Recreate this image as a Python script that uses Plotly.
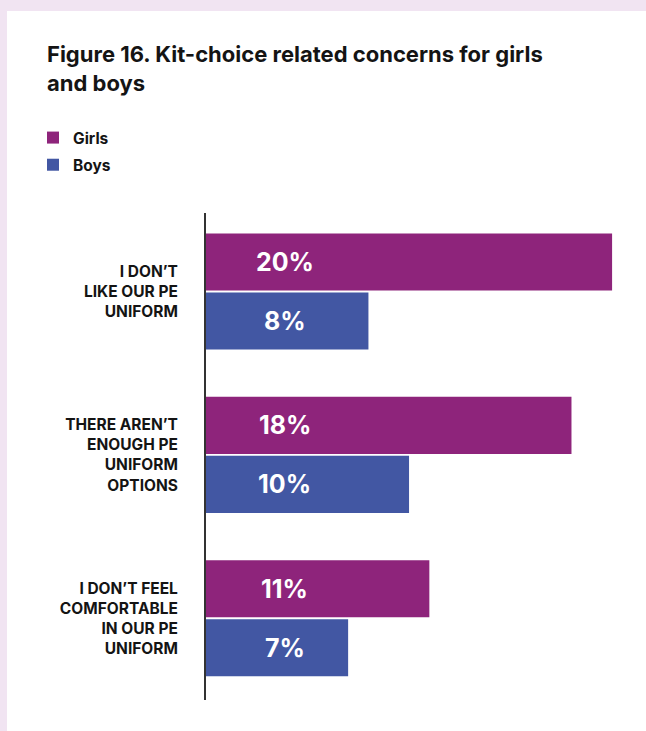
import plotly.graph_objects as go

# Survey answers (percent of respondents)
categories = [
    "I DON’T<br>LIKE OUR PE<br>UNIFORM",
    "THERE AREN’T<br>ENOUGH PE<br>UNIFORM<br>OPTIONS",
    "I DON’T FEEL<br>COMFORTABLE<br>IN OUR PE<br>UNIFORM",
]
girls = [20, 18, 11]
boys = [8, 10, 7]
series_names = ["Girls", "Boys"]
series_colors = ["#8E247B", "#4257A3"]

FONT = "Inter, 'Open Sans', sans-serif"
INK = "#141414"

W, H = 646, 731
M_L, M_R, M_T, M_B = 206, 0, 213, 31
X_MAX = 21.67
LABEL_X = 3.89          # value-label column position (data units)
BAR_W = 0.349
BAR_GAP = 0.012

fig = go.Figure()
series = [girls, boys]
offsets = [-(BAR_W + BAR_GAP / 2), BAR_GAP / 2]
for name, vals, col, off in zip(series_names, series, series_colors, offsets):
    fig.add_trace(go.Bar(
        y=categories, x=vals, orientation="h", name=name,
        marker=dict(color=col, line=dict(width=0)),
        width=BAR_W, offset=off, legendgroup=name,
        hoverinfo="skip",
    ))

# value labels, drawn in a fixed column inside each bar
annotations = []
for vals, off in zip(series, offsets):
    for i, v in enumerate(vals):
        annotations.append(dict(
            x=LABEL_X, y=i + off + BAR_W / 2, xref="x", yref="y",
            text=f"<b>{v}%</b>", showarrow=False,
            font=dict(family=FONT, size=25, color="white"),
            xanchor="center", yanchor="middle",
        ))

# lavender page frame behind the white card
plot_w = W - M_L - M_R
plot_h = H - M_T - M_B
shapes = [
    dict(type="rect", xref="paper", yref="paper", layer="below",
         x0=(0 - M_L) / plot_w, x1=(W - M_L) / plot_w + 0.01,
         y0=(H - M_B - H) / plot_h - 0.01, y1=(H - M_B) / plot_h + 0.01,
         fillcolor="#F1E4F2", line=dict(width=0)),
    dict(type="rect", xref="paper", yref="paper", layer="below",
         x0=(7 - M_L) / plot_w, x1=(W - M_L) / plot_w + 0.01,
         y0=(H - M_B - H) / plot_h - 0.01, y1=(H - M_B - 11) / plot_h,
         fillcolor="white", line=dict(width=0)),
]

fig.update_layout(
    width=W, height=H,
    margin=dict(l=M_L, r=M_R, t=M_T, b=M_B, autoexpand=False),
    paper_bgcolor="white", plot_bgcolor="rgba(0,0,0,0)",
    barmode="group",
    title=dict(
        text="<b>Figure 16. Kit-choice related concerns for girls<br>and boys</b>",
        xref="container", yref="container", x=47 / W, y=1 - 62 / H,
        xanchor="left", yanchor="top",
        font=dict(family=FONT, size=22, color=INK),
    ),
    legend=dict(
        xref="container", yref="container", x=33 / W, y=1 - 121 / H,
        xanchor="left", yanchor="top", orientation="v",
        traceorder="grouped", tracegroupgap=4,
        font=dict(family=FONT, size=15.5, color=INK, weight="bold"),
        bgcolor="rgba(0,0,0,0)",
    ),
    xaxis=dict(range=[0, X_MAX], visible=False, fixedrange=True),
    yaxis=dict(
        type="category", range=[2.5, -0.48], automargin=False,
        showline=True, linecolor="#333333", linewidth=2,
        showgrid=False, zeroline=False, ticks="",
        ticklabelstandoff=23,
        tickfont=dict(family=FONT, size=15.5, color=INK, weight="bold"),
    ),
    annotations=annotations,
    shapes=shapes,
    showlegend=True,
)

fig.write_html("out.html")
